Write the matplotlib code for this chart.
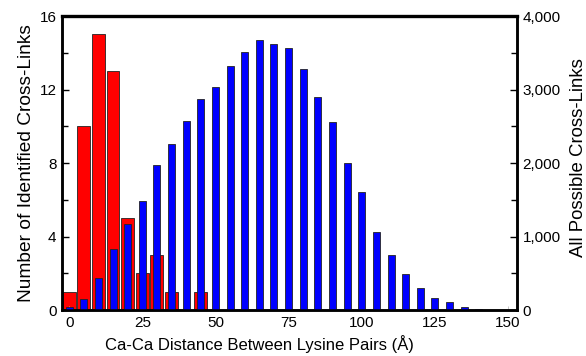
import numpy as np
import matplotlib
matplotlib.use("Agg")
import matplotlib.pyplot as plt
from matplotlib.ticker import FuncFormatter, MultipleLocator

plt.rcParams['font.family'] = ['Liberation Sans', 'DejaVu Sans']

# 5 A bins
bins = np.arange(0, 150, 5)
identified = [1, 10, 15, 13, 5, 2, 3, 1, 0, 1] + [0] * 20
possible = [40, 155, 440, 825, 1175, 1480, 1980, 2255, 2575, 2865,
            3035, 3325, 3510, 3670, 3620, 3570, 3280, 2905, 2560, 2000,
            1610, 1066, 748, 494, 295, 168, 104, 37, 8, 0]

fig = plt.figure(figsize=(5.86, 3.56), dpi=100)
ax = fig.add_axes([0.106, 0.129, 0.776, 0.826])
ax2 = ax.twinx()

ax.bar(bins, identified, width=4.4, color='#ff0000', edgecolor='#222222', linewidth=0.6)
ax2.bar(bins, possible, width=2.4, color='#0000ff', edgecolor='#222222', linewidth=0.6)

ax.set_xlim(-2.4, 153)
ax.set_ylim(0, 16)
ax2.set_ylim(0, 4000)

ax.set_xticks([0, 25, 50, 75, 100, 125, 150])
ax.set_yticks([0, 4, 8, 12, 16])
ax.yaxis.set_minor_locator(MultipleLocator(2))
ax2.set_yticks([0, 1000, 2000, 3000, 4000])
ax2.yaxis.set_minor_locator(MultipleLocator(500))
ax2.yaxis.set_major_formatter(FuncFormatter(lambda v, p: f"{int(v):,}"))

ax.tick_params(axis='both', which='both', direction='in', labelsize=11, pad=4)
ax.tick_params(axis='y', which='major', length=5, width=1)
ax.tick_params(axis='y', which='minor', length=4, width=1)
ax.tick_params(axis='x', which='major', length=3, width=0.6, color='#bbbbbb')
ax2.tick_params(axis='y', which='both', direction='in', labelsize=11, pad=4)
ax2.tick_params(axis='y', which='major', length=5, width=1)
ax2.tick_params(axis='y', which='minor', length=4, width=1)

for a in (ax, ax2):
    for s in a.spines.values():
        s.set_linewidth(1.8)
        s.set_color('black')
ax2.spines['top'].set_linewidth(2.4)

ax.set_xlabel('Ca-Ca Distance Between Lysine Pairs (Å)', fontsize=12, labelpad=2)
ax.xaxis.set_label_coords(0.433, -0.085)
ax.set_ylabel('Number of Identified Cross-Links', fontsize=13.8, labelpad=3)
ax2.set_ylabel('All Possible Cross-Links', fontsize=13.4, labelpad=6)
ax2.yaxis.set_label_coords(1.117, 0.52)

fig.savefig('out.png', dpi=100)
